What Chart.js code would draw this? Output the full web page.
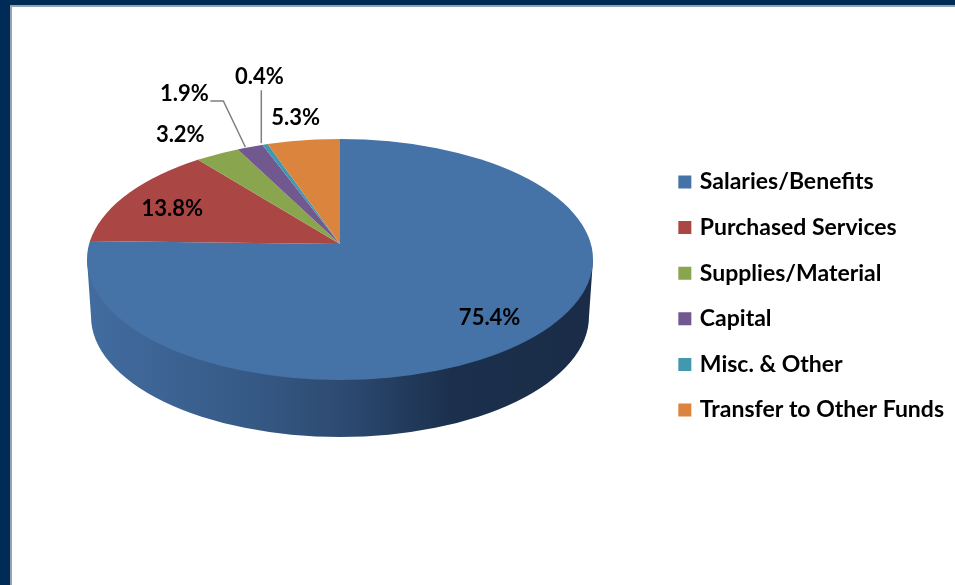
<!DOCTYPE html>
<html>
<head>
<meta charset="utf-8">
<title>Expenditures</title>
<script src="https://cdn.jsdelivr.net/npm/chart.js@4"></script>
<style>
  html, body { margin: 0; padding: 0; background: #fff; overflow: hidden; }
  #wrap { position: absolute; left: 0; top: 0; width: 955px; height: 585px; }
  #frame { position: absolute; left: 0; top: 0; width: 945px; height: 580px; border-top: 5px solid #002b57; border-left: 10px solid #002b57; box-shadow: inset 2px 2px 0 #98a3b2; pointer-events: none; }
</style>
</head>
<body>
<div id="wrap"><canvas id="budgetChart" width="955" height="585"></canvas></div>
<div id="frame"></div>
<script>
var categories = ['Salaries/Benefits', 'Purchased Services', 'Supplies/Material', 'Capital', 'Misc. & Other', 'Transfer to Other Funds'];
var shares = [75.4, 13.8, 3.2, 1.9, 0.4, 5.3];
var sliceColors = ['#4572a7', '#aa4643', '#89a54e', '#71588f', '#4198af', '#db843d'];

// tilted pie look, canvas can't do perspective so the apex sits above the ellipse centre
var view = { apexX: 340, apexY: 244, cy: 259.5, rx: 253, ry: 120.5, depth: 57, flatten: 2.09 };
// label shift from the rim point of each slice
var labelShift = [[-27, -23], [59, 11.5], [-21.5, -21.5], [-53, -54.5], [5, -68], [-2.5, -23]];
// leader lines, same reference point
var leaders = { 3: [[8, -1], [-14, -47], [-27, -47]], 4: [[7, -2], [7, -55]] };

function rimPoint(arc) {
  var mid = (arc.startAngle + arc.endAngle) / 2;
  var dy = Math.sin(mid);
  return {
    x: view.apexX + view.rx * Math.cos(mid),
    y: view.apexY + (dy < 0 ? 105 : 136) * dy
  };
}

function drawSide(ctx) {
  var grad = ctx.createLinearGradient(view.apexX - view.rx, 0, view.apexX + view.rx, 0);
  grad.addColorStop(0, '#426c9f');
  grad.addColorStop(0.3, '#375b88');
  grad.addColorStop(0.5, '#2d4b72');
  grad.addColorStop(0.72, '#1b304d');
  grad.addColorStop(1, '#1a2c47');
  ctx.save();
  ctx.fillStyle = grad;
  ctx.beginPath();
  ctx.moveTo(view.apexX - view.rx, view.cy);
  ctx.lineTo(view.apexX - view.rx + 4, view.cy + view.depth);
  ctx.ellipse(view.apexX, view.cy + view.depth, view.rx - 4, view.ry, 0, Math.PI, 0, true);
  ctx.lineTo(view.apexX + view.rx, view.cy);
  ctx.closePath();
  ctx.fill();
  ctx.restore();
}

var tiltedPie = {
  id: 'tiltedPie',
  afterLayout: function(chart) {
    var shiftX = -1;
    chart.legend.left += shiftX;
    chart.legend.right += shiftX;
    chart.legend.top += 3.5;
    chart.legend.bottom += 3.5;
  },
  beforeDatasetsDraw: function(chart) {
    var ctx = chart.ctx;
    var arcs = chart.getDatasetMeta(0).data;
    var size = 300 / arcs[0].outerRadius;

    drawSide(ctx);

    ctx.save();
    ctx.beginPath();
    ctx.ellipse(view.apexX, view.cy, view.rx, view.ry, 0, 0, Math.PI * 2);
    ctx.clip();
    [[view.apexY, 600, 1], [0, view.apexY, 1 / view.flatten]].forEach(function(part) {
      ctx.save();
      ctx.beginPath();
      ctx.rect(0, part[0], 955, part[1] - part[0]);
      ctx.clip();
      ctx.translate(view.apexX, view.apexY);
      ctx.scale(size, size * part[2]);
      ctx.translate(-arcs[0].x, -arcs[0].y);
      arcs.forEach(function(arc) { arc.draw(ctx); });
      ctx.restore();
    });
    ctx.restore();
    return false;
  },
  // returning false above skips afterDatasetsDraw, so labels go here
  afterDraw: function(chart) {
    var ctx = chart.ctx;
    var arcs = chart.getDatasetMeta(0).data;
    ctx.save();
    ctx.font = 'bold 22px Lato';
    ctx.fillStyle = '#000';
    ctx.textAlign = 'center';
    ctx.textBaseline = 'middle';
    arcs.forEach(function(arc, i) {
      var p = rimPoint(arc);
      ctx.fillText(shares[i].toFixed(1) + '%', p.x + labelShift[i][0], p.y + labelShift[i][1]);
      if (leaders[i]) {
        ctx.strokeStyle = '#7f7f7f';
        ctx.lineWidth = 1.5;
        ctx.beginPath();
        leaders[i].forEach(function(o, k) {
          if (k === 0) ctx.moveTo(p.x + o[0], p.y + o[1]);
          else ctx.lineTo(p.x + o[0], p.y + o[1]);
        });
        ctx.stroke();
      }
    });
    ctx.restore();
  }
};

var budgetChart = new Chart(document.getElementById('budgetChart').getContext('2d'), {
  type: 'pie',
  data: {
    labels: categories,
    datasets: [{
      data: shares,
      backgroundColor: sliceColors,
      borderWidth: 0
    }]
  },
  options: {
    responsive: false,
    animation: false,
    plugins: {
      tooltip: { enabled: false },
      legend: {
        position: 'right',
        labels: {
          color: '#000',
          font: { family: 'Lato', size: 23, weight: 'bold' },
          boxWidth: 7,
          boxHeight: 7,
          padding: 22.6,
          generateLabels: function(chart) {
            return categories.map(function(name, i) {
              return { text: name, fillStyle: sliceColors[i], strokeStyle: sliceColors[i], lineWidth: 6, index: i };
            });
          }
        }
      }
    }
  },
  plugins: [tiltedPie]
});
</script>
</body>
</html>
